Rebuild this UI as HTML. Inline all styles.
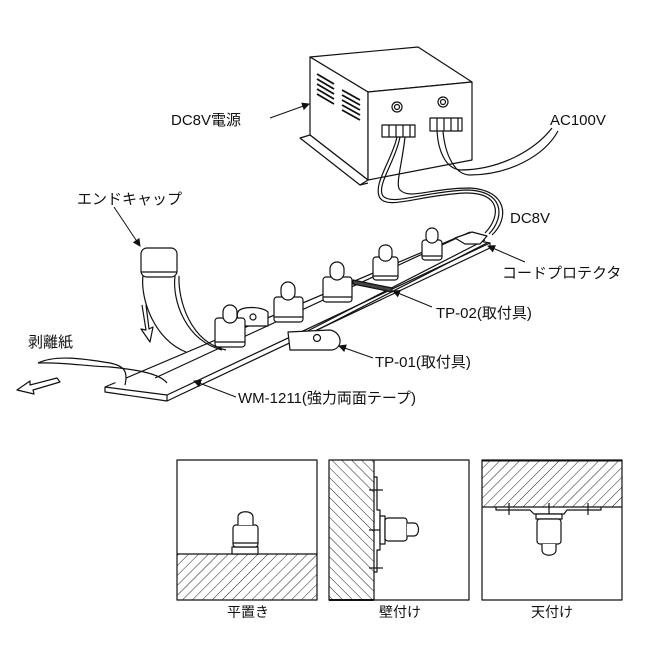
<!DOCTYPE html>
<html><head><meta charset="utf-8"><style>
html,body{margin:0;padding:0;background:#fff;}
svg{display:block;}
text{font-family:"Liberation Sans","Noto Sans CJK JP",sans-serif;font-size:15px;fill:#111;}
</style></head><body>
<svg width="660" height="649" viewBox="0 0 660 649" xmlns="http://www.w3.org/2000/svg">
<defs>
<pattern id="h1" patternUnits="userSpaceOnUse" width="7" height="7" patternTransform="rotate(45)">
<line x1="0" y1="0" x2="0" y2="7" stroke="#222" stroke-width="1"/></pattern>
<pattern id="h2" patternUnits="userSpaceOnUse" width="7" height="7" patternTransform="rotate(-45)">
<line x1="0" y1="0" x2="0" y2="7" stroke="#222" stroke-width="1"/></pattern>
<marker id="ar" markerWidth="8" markerHeight="8" refX="7" refY="4" orient="auto" markerUnits="userSpaceOnUse">
<path d="M0,0 L8,4 L0,8 z" fill="#111"/></marker>
</defs>
<g fill="none" stroke="#111" stroke-width="1.2" stroke-linejoin="round">
<polygon points="310,57 418,47 472,82 368,92" fill="#fff"/>
<polygon points="310,57 368,92 368,180 310,135" fill="#fff"/>
<polygon points="368,92 472,82 472,160 368,180" fill="#fff"/>
<polygon points="300,138 310,135 368,180 360,185" fill="#fff"/>
<line x1="360" y1="185" x2="368" y2="183"/>
<g stroke-width="1.8">
<line x1="317" y1="74" x2="334" y2="84"/><line x1="317" y1="79" x2="334" y2="89"/><line x1="317" y1="84" x2="334" y2="94"/><line x1="317" y1="89" x2="334" y2="99"/><line x1="317" y1="94" x2="334" y2="104"/>
<line x1="342" y1="90" x2="360" y2="100"/><line x1="342" y1="95" x2="360" y2="105"/><line x1="342" y1="100" x2="360" y2="110"/><line x1="342" y1="105" x2="360" y2="115"/><line x1="342" y1="110" x2="360" y2="120"/>
</g>
<circle cx="397" cy="107" r="5"/><circle cx="397" cy="107" r="2.5"/>
<circle cx="443" cy="102" r="5"/><circle cx="443" cy="102" r="2.5"/>
<rect x="382" y="125" width="33" height="12" fill="#fff"/>
<line x1="389" y1="125" x2="389" y2="137"/><line x1="396" y1="125" x2="396" y2="137"/><line x1="403" y1="125" x2="403" y2="137"/><line x1="410" y1="125" x2="410" y2="137"/>
<rect x="430" y="118" width="32" height="13" fill="#fff"/>
<line x1="437" y1="118" x2="437" y2="131"/><line x1="444" y1="118" x2="444" y2="131"/><line x1="451" y1="118" x2="451" y2="131"/><line x1="458" y1="118" x2="458" y2="131"/>
<path d="M397,137 C392,160 372,185 380,198 C388,210 420,195 465,193 C500,192 502,215 485,233"/>
<path d="M400,137 C395,162 376,186 383,196 C392,206 422,192 466,190 C503,190 506,216 489,234"/>
<path d="M405,137 C402,165 395,185 400,190 C410,200 430,188 470,188 C507,190 510,218 492,235"/>
<path d="M437,131 C438,150 445,168 460,170 C500,170 535,150 552,128"/>
<path d="M443,131 C445,155 455,175 470,175 C510,175 545,155 558,131"/>
<polygon points="105,387 167,395 490,243 458,237" fill="#fff"/>
<polyline points="105,387 105,392 167,401 490,248 490,243"/>
<line x1="167" y1="395" x2="167" y2="401"/>
<line x1="155" y1="378" x2="470" y2="232"/>
<line x1="290" y1="340" x2="485" y2="240"/>
<line x1="292" y1="343" x2="487" y2="243"/>
<polygon points="455,238 472,232 487,236 480,244 465,244" fill="#fff"/>
<path d="M38,363 C55,355 80,358 110,363 C125,366 128,372 125,385" fill="#fff"/>
<path d="M38,363 C60,362 85,366 110,367 C140,370 160,374 167,383"/>
<path d="M186,352 C155,340 140,300 143,275"/>
<path d="M222,350 C185,340 172,300 175,276"/>
<path d="M226,350 C190,342 178,300 179,276"/>
<rect x="141" y="248" width="36" height="29" rx="6" fill="#fff"/>
<line x1="141" y1="272" x2="177" y2="272"/>
<polygon points="17,390 30,381 30,385 57,378 60,382 33,390 34,394" fill="#fff"/>
<path d="M142,305 L146,330 L141,329 L150,342 L153,327 L149,329 L146,305" fill="#fff"/>
<path d="M238,312 C240,306 262,306 268,312 L268,326 L245,326 C238,322 236,316 238,312z" fill="#fff"/>
<circle cx="253" cy="317" r="3"/>
<path d="M288,332 L330,330 C342,332 344,348 332,350 L290,350 z" fill="#fff"/>
<circle cx="317" cy="338" r="3.5"/>
<polygon points="353,280 392,288 392,292 353,284" fill="#444"/>
<g fill="#fff">
<rect x="215" y="318" width="30" height="29" rx="3"/><rect x="223" y="305" width="14" height="18" rx="7"/><line x1="215" y1="342" x2="245" y2="342"/>
<rect x="274" y="297" width="29" height="25" rx="3"/><rect x="281" y="282" width="14" height="18" rx="7"/><line x1="274" y1="317" x2="303" y2="317"/>
<rect x="323" y="277" width="29" height="25" rx="3"/><rect x="330" y="262" width="14" height="18" rx="7"/><line x1="323" y1="297" x2="352" y2="297"/>
<rect x="373" y="257" width="25" height="23" rx="3"/><rect x="379" y="245" width="13" height="16" rx="6"/><line x1="373" y1="276" x2="398" y2="276"/>
<rect x="422" y="240" width="20" height="20" rx="3"/><rect x="426" y="228" width="12" height="15" rx="6"/><line x1="422" y1="256" x2="442" y2="256"/>
</g>
<g stroke-width="1">
<line x1="270" y1="118" x2="309" y2="104" marker-end="url(#ar)"/>
<line x1="114" y1="207" x2="140" y2="246" marker-end="url(#ar)"/>
<line x1="432" y1="307" x2="393" y2="291" marker-end="url(#ar)"/>
<line x1="373" y1="358" x2="339" y2="346" marker-end="url(#ar)"/>
<line x1="236" y1="397" x2="194" y2="381" marker-end="url(#ar)"/>
<line x1="525" y1="262" x2="488" y2="246" marker-end="url(#ar)"/>
</g>
<rect x="177" y="460" width="140" height="140"/>
<rect x="177.5" y="554" width="139" height="46" fill="url(#h1)" stroke="none"/>
<line x1="177" y1="554" x2="317" y2="554"/>
<rect x="232" y="547" width="26" height="7" fill="#fff"/>
<rect x="233" y="525" width="25" height="22" rx="3" fill="#fff"/>
<line x1="233" y1="543" x2="258" y2="543"/>
<path d="M238,525 L238,517 C238,510 253,510 253,517 L253,525" fill="#fff"/>
<rect x="329" y="460" width="140" height="140"/>
<rect x="329.5" y="460.5" width="44.5" height="139" fill="url(#h2)" stroke="none"/>
<line x1="374" y1="460" x2="374" y2="600"/>
<line x1="329" y1="600" x2="374" y2="600" stroke-width="2"/>
<polyline points="374,477 377,477 377,510 380,510 380,550 377,550 377,572 374,572"/>
<line x1="369" y1="490" x2="383" y2="490"/><line x1="369" y1="530" x2="385" y2="530"/><line x1="369" y1="568" x2="383" y2="568"/>
<rect x="380" y="516" width="5" height="28" fill="#fff"/>
<rect x="385" y="518" width="22" height="23" rx="3" fill="#fff"/>
<path d="M407,523 L414,523 C420,523 420,536 414,536 L407,536" fill="#fff"/>
<rect x="482" y="460" width="140" height="140"/>
<rect x="482.5" y="460.5" width="139" height="46.5" fill="url(#h1)" stroke="none"/>
<line x1="482" y1="507" x2="622" y2="507"/>
<line x1="482" y1="460.5" x2="622" y2="460.5" stroke-width="2"/>
<polyline points="496,507 496,510 530,510 534,514 564,514 567,510 601,510 601,507"/>
<line x1="509" y1="503" x2="509" y2="515"/><line x1="549" y1="503" x2="549" y2="518"/><line x1="588" y1="503" x2="588" y2="515"/>
<rect x="536" y="514" width="26" height="5" fill="#fff"/>
<rect x="537" y="519" width="24" height="25" rx="3" fill="#fff"/>
<path d="M542,544 L542,550 C542,557 556,557 556,550 L556,544" fill="#fff"/>
</g>
<text x="171" y="125">DC8V電源</text>
<text x="550" y="125">AC100V</text>
<text x="77" y="204">エンドキャップ</text>
<text x="510" y="223">DC8V</text>
<text x="502" y="278">コードプロテクタ</text>
<text x="436" y="318">TP-02(取付具)</text>
<text x="28" y="347">剥離紙</text>
<text x="375" y="367">TP-01(取付具)</text>
<text x="238" y="403">WM-1211(強力両面テープ)</text>
<text x="248" y="617" text-anchor="middle" style="font-size:14px">平置き</text>
<text x="400" y="617" text-anchor="middle" style="font-size:14px">壁付け</text>
<text x="552" y="617" text-anchor="middle" style="font-size:14px">天付け</text>
</svg>
</body></html>
